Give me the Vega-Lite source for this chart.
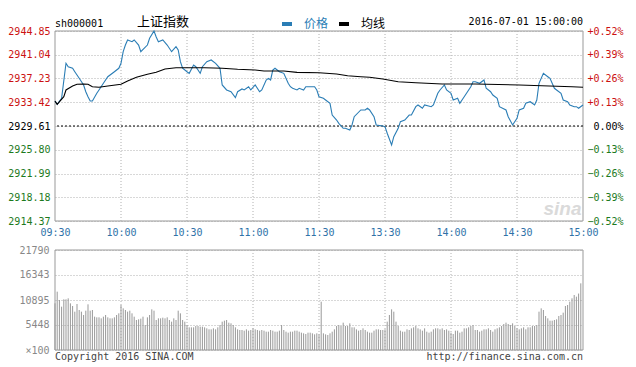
{
"$schema": "https://vega.github.io/schema/vega-lite/v6.json",
"width": 528, "height": 319,
"autosize": {"type": "none"},
"padding": {"left": 55, "top": 31, "right": 53, "bottom": 17},
"background": "white",
"config": {
 "font": "DejaVu Sans Mono",
 "view": {"stroke": null},
 "axis": {"labelFont": "DejaVu Sans Mono", "labelFontSize": 10, "ticks": false, "domain": false, "gridColor": "#b0b0b0", "gridDash": [1, 2], "gridWidth": 1, "title": null, "labelFlush": false, "labelOverlap": false}
},
"datasets": {
 "one": [{"k": 1}],
 "grid": [{"g": 30}, {"g": 60}, {"g": 90}, {"g": 120}, {"g": 150}, {"g": 180}, {"g": 210}],
 "prev": [{"pct": 0}],
 "lines": [
{"m":0,"p":2933.60,"s":"价格"},{"m":1,"p":2933.09,"s":"价格"},{"m":3,"p":2934.05,"s":"价格"},{"m":5,"p":2939.67,"s":"价格"},{"m":6,"p":2939.12,"s":"价格"},{"m":8,"p":2938.87,"s":"价格"},{"m":9,"p":2938.32,"s":"价格"},{"m":11,"p":2937.26,"s":"价格"},{"m":13,"p":2936.19,"s":"价格"},{"m":14,"p":2935.11,"s":"价格"},{"m":15,"p":2934.31,"s":"价格"},{"m":16,"p":2933.62,"s":"价格"},{"m":17,"p":2933.62,"s":"价格"},{"m":19,"p":2934.86,"s":"价格"},{"m":20,"p":2935.39,"s":"价格"},{"m":22,"p":2936.46,"s":"价格"},{"m":24,"p":2937.52,"s":"价格"},{"m":27,"p":2938.32,"s":"价格"},{"m":29,"p":2938.87,"s":"价格"},{"m":30,"p":2939.67,"s":"价格"},{"m":31,"p":2941.53,"s":"价格"},{"m":32,"p":2942.60,"s":"价格"},{"m":33,"p":2943.41,"s":"价格"},{"m":35,"p":2943.13,"s":"价格"},{"m":36,"p":2943.41,"s":"价格"},{"m":38,"p":2942.60,"s":"价格"},{"m":39,"p":2941.53,"s":"价格"},{"m":42,"p":2942.60,"s":"价格"},{"m":43,"p":2943.68,"s":"价格"},{"m":45,"p":2944.85,"s":"价格"},{"m":46,"p":2943.90,"s":"价格"},{"m":47,"p":2943.13,"s":"价格"},{"m":49,"p":2943.41,"s":"价格"},{"m":51,"p":2942.60,"s":"价格"},{"m":53,"p":2941.53,"s":"价格"},{"m":55,"p":2942.33,"s":"价格"},{"m":56,"p":2941.80,"s":"价格"},{"m":57,"p":2939.93,"s":"价格"},{"m":58,"p":2938.87,"s":"价格"},{"m":60,"p":2938.32,"s":"价格"},{"m":61,"p":2938.06,"s":"价格"},{"m":63,"p":2939.40,"s":"价格"},{"m":64,"p":2939.12,"s":"价格"},{"m":66,"p":2938.06,"s":"价格"},{"m":67,"p":2939.12,"s":"价格"},{"m":69,"p":2939.93,"s":"价格"},{"m":71,"p":2940.20,"s":"价格"},{"m":73,"p":2939.67,"s":"价格"},{"m":75,"p":2938.87,"s":"价格"},{"m":76,"p":2936.19,"s":"价格"},{"m":78,"p":2935.39,"s":"价格"},{"m":80,"p":2935.11,"s":"价格"},{"m":82,"p":2934.15,"s":"价格"},{"m":83,"p":2935.11,"s":"价格"},{"m":85,"p":2935.55,"s":"价格"},{"m":86,"p":2935.39,"s":"价格"},{"m":88,"p":2935.91,"s":"价格"},{"m":89,"p":2935.39,"s":"价格"},{"m":91,"p":2936.19,"s":"价格"},{"m":93,"p":2935.11,"s":"价格"},{"m":94,"p":2935.39,"s":"价格"},{"m":96,"p":2936.99,"s":"价格"},{"m":97,"p":2937.26,"s":"价格"},{"m":98,"p":2937.00,"s":"价格"},{"m":99,"p":2938.59,"s":"价格"},{"m":100,"p":2938.87,"s":"价格"},{"m":102,"p":2938.32,"s":"价格"},{"m":104,"p":2938.06,"s":"价格"},{"m":106,"p":2936.46,"s":"价格"},{"m":107,"p":2935.91,"s":"价格"},{"m":108,"p":2935.66,"s":"价格"},{"m":110,"p":2935.39,"s":"价格"},{"m":111,"p":2935.66,"s":"价格"},{"m":113,"p":2935.39,"s":"价格"},{"m":114,"p":2935.91,"s":"价格"},{"m":116,"p":2935.91,"s":"价格"},{"m":118,"p":2935.91,"s":"价格"},{"m":119,"p":2935.39,"s":"价格"},{"m":120,"p":2934.31,"s":"价格"},{"m":122,"p":2934.05,"s":"价格"},{"m":123,"p":2933.78,"s":"价格"},{"m":125,"p":2933.25,"s":"价格"},{"m":126,"p":2931.37,"s":"价格"},{"m":128,"p":2930.57,"s":"价格"},{"m":129,"p":2930.04,"s":"价格"},{"m":131,"p":2929.24,"s":"价格"},{"m":132,"p":2929.24,"s":"价格"},{"m":134,"p":2928.97,"s":"价格"},{"m":135,"p":2929.77,"s":"价格"},{"m":136,"p":2931.10,"s":"价格"},{"m":139,"p":2932.18,"s":"价格"},{"m":141,"p":2932.18,"s":"价格"},{"m":142,"p":2932.45,"s":"价格"},{"m":143,"p":2932.18,"s":"价格"},{"m":145,"p":2931.10,"s":"价格"},{"m":146,"p":2929.77,"s":"价格"},{"m":149,"p":2929.61,"s":"价格"},{"m":150,"p":2929.50,"s":"价格"},{"m":151,"p":2928.44,"s":"价格"},{"m":153,"p":2926.56,"s":"价格"},{"m":154,"p":2927.89,"s":"价格"},{"m":156,"p":2929.24,"s":"价格"},{"m":157,"p":2930.30,"s":"价格"},{"m":159,"p":2930.57,"s":"价格"},{"m":161,"p":2931.37,"s":"价格"},{"m":162,"p":2931.37,"s":"价格"},{"m":164,"p":2932.71,"s":"价格"},{"m":165,"p":2932.98,"s":"价格"},{"m":167,"p":2932.45,"s":"价格"},{"m":168,"p":2932.98,"s":"价格"},{"m":171,"p":2932.71,"s":"价格"},{"m":172,"p":2932.98,"s":"价格"},{"m":174,"p":2934.86,"s":"价格"},{"m":175,"p":2935.39,"s":"价格"},{"m":177,"p":2936.19,"s":"价格"},{"m":178,"p":2935.39,"s":"价格"},{"m":180,"p":2934.86,"s":"价格"},{"m":181,"p":2933.78,"s":"价格"},{"m":183,"p":2934.05,"s":"价格"},{"m":184,"p":2933.25,"s":"价格"},{"m":186,"p":2934.31,"s":"价格"},{"m":189,"p":2935.91,"s":"价格"},{"m":190,"p":2936.72,"s":"价格"},{"m":191,"p":2936.72,"s":"价格"},{"m":193,"p":2936.46,"s":"价格"},{"m":195,"p":2936.99,"s":"价格"},{"m":196,"p":2935.66,"s":"价格"},{"m":198,"p":2935.11,"s":"价格"},{"m":199,"p":2934.58,"s":"价格"},{"m":201,"p":2934.05,"s":"价格"},{"m":202,"p":2932.71,"s":"价格"},{"m":205,"p":2932.18,"s":"价格"},{"m":206,"p":2931.10,"s":"价格"},{"m":208,"p":2929.77,"s":"价格"},{"m":210,"p":2930.85,"s":"价格"},{"m":211,"p":2932.18,"s":"价格"},{"m":213,"p":2932.45,"s":"价格"},{"m":214,"p":2933.25,"s":"价格"},{"m":216,"p":2933.51,"s":"价格"},{"m":218,"p":2932.98,"s":"价格"},{"m":219,"p":2933.78,"s":"价格"},{"m":220,"p":2936.46,"s":"价格"},{"m":222,"p":2938.06,"s":"价格"},{"m":224,"p":2937.52,"s":"价格"},{"m":225,"p":2937.26,"s":"价格"},{"m":227,"p":2935.66,"s":"价格"},{"m":228,"p":2935.39,"s":"价格"},{"m":230,"p":2934.86,"s":"价格"},{"m":231,"p":2933.78,"s":"价格"},{"m":233,"p":2933.51,"s":"价格"},{"m":234,"p":2932.98,"s":"价格"},{"m":236,"p":2932.71,"s":"价格"},{"m":237,"p":2932.71,"s":"价格"},{"m":238,"p":2932.45,"s":"价格"},{"m":240,"p":2932.98,"s":"价格"},
{"m":0,"p":2933.60,"s":"均线"},{"m":1,"p":2933.09,"s":"均线"},{"m":4,"p":2934.31,"s":"均线"},{"m":5,"p":2935.39,"s":"均线"},{"m":8,"p":2936.03,"s":"均线"},{"m":10,"p":2936.30,"s":"均线"},{"m":13,"p":2936.35,"s":"均线"},{"m":15,"p":2936.30,"s":"均线"},{"m":17,"p":2935.91,"s":"均线"},{"m":20,"p":2935.82,"s":"均线"},{"m":24,"p":2936.03,"s":"均线"},{"m":30,"p":2936.30,"s":"均线"},{"m":33,"p":2936.83,"s":"均线"},{"m":37,"p":2937.42,"s":"均线"},{"m":42,"p":2937.90,"s":"均线"},{"m":46,"p":2938.22,"s":"均线"},{"m":50,"p":2938.75,"s":"均线"},{"m":55,"p":2938.96,"s":"均线"},{"m":60,"p":2938.96,"s":"均线"},{"m":68,"p":2938.96,"s":"均线"},{"m":76,"p":2938.87,"s":"均线"},{"m":83,"p":2938.71,"s":"均线"},{"m":91,"p":2938.59,"s":"均线"},{"m":95,"p":2938.43,"s":"均线"},{"m":104,"p":2938.43,"s":"均线"},{"m":110,"p":2938.22,"s":"均线"},{"m":120,"p":2938.16,"s":"均线"},{"m":128,"p":2937.95,"s":"均线"},{"m":133,"p":2937.68,"s":"均线"},{"m":139,"p":2937.52,"s":"均线"},{"m":143,"p":2937.42,"s":"均线"},{"m":149,"p":2937.15,"s":"均线"},{"m":156,"p":2936.72,"s":"均线"},{"m":164,"p":2936.56,"s":"均线"},{"m":176,"p":2936.35,"s":"均线"},{"m":191,"p":2936.35,"s":"均线"},{"m":211,"p":2936.19,"s":"均线"},{"m":235,"p":2935.91,"s":"均线"},{"m":240,"p":2935.82,"s":"均线"}
 ],
 "vol": [
{"m":0,"v":10168},{"m":1,"v":12710},{"m":2,"v":10895},{"m":3,"v":9442},{"m":4,"v":11040},{"m":5,"v":11040},{"m":6,"v":11258},{"m":7,"v":10168},{"m":8,"v":9587},{"m":9,"v":8352},
{"m":10,"v":10023},{"m":11,"v":8716},{"m":12,"v":8352},{"m":13,"v":7626},{"m":14,"v":8570},{"m":15,"v":9950},{"m":16,"v":8570},{"m":17,"v":8716},{"m":18,"v":7263},{"m":19,"v":7118},
{"m":20,"v":7118},{"m":21,"v":6900},{"m":22,"v":7263},{"m":23,"v":7626},{"m":24,"v":7118},{"m":25,"v":6900},{"m":26,"v":6900},{"m":27,"v":7118},{"m":28,"v":7626},{"m":29,"v":7989},
{"m":30,"v":9805},{"m":31,"v":9079},{"m":32,"v":8716},{"m":33,"v":8352},{"m":34,"v":8570},{"m":35,"v":7989},{"m":36,"v":7263},{"m":37,"v":6537},{"m":38,"v":6682},{"m":39,"v":6827},
{"m":40,"v":7263},{"m":41,"v":5447},{"m":42,"v":7118},{"m":43,"v":7626},{"m":44,"v":8861},{"m":45,"v":8570},{"m":46,"v":6537},{"m":47,"v":6900},{"m":48,"v":6900},{"m":49,"v":7045},
{"m":50,"v":6900},{"m":51,"v":7118},{"m":52,"v":6537},{"m":53,"v":6174},{"m":54,"v":6900},{"m":55,"v":6537},{"m":56,"v":8570},{"m":57,"v":7989},{"m":58,"v":6537},{"m":59,"v":6174},
{"m":60,"v":5447},{"m":61,"v":4939},{"m":62,"v":4939},{"m":63,"v":4939},{"m":64,"v":5229},{"m":65,"v":5229},{"m":66,"v":5084},{"m":67,"v":5084},{"m":68,"v":4939},{"m":69,"v":4721},
{"m":70,"v":4503},{"m":71,"v":4503},{"m":72,"v":4721},{"m":73,"v":4503},{"m":74,"v":4939},{"m":75,"v":5447},{"m":76,"v":6174},{"m":77,"v":6391},{"m":78,"v":6537},{"m":79,"v":5956},
{"m":80,"v":5810},{"m":81,"v":5447},{"m":82,"v":4939},{"m":83,"v":4503},{"m":84,"v":4358},{"m":85,"v":4358},{"m":86,"v":4213},{"m":87,"v":4503},{"m":88,"v":4213},{"m":89,"v":4358},
{"m":90,"v":4721},{"m":91,"v":4503},{"m":92,"v":4358},{"m":93,"v":4213},{"m":94,"v":4358},{"m":95,"v":4213},{"m":96,"v":3995},{"m":97,"v":3995},{"m":98,"v":4358},{"m":99,"v":4213},
{"m":100,"v":3995},{"m":101,"v":3995},{"m":102,"v":4213},{"m":103,"v":5447},{"m":104,"v":4358},{"m":105,"v":3995},{"m":106,"v":3777},{"m":107,"v":3995},{"m":108,"v":3995},{"m":109,"v":4213},
{"m":110,"v":4213},{"m":111,"v":3995},{"m":112,"v":3777},{"m":113,"v":3632},{"m":114,"v":3486},{"m":115,"v":3777},{"m":116,"v":3777},{"m":117,"v":3632},{"m":118,"v":3414},{"m":119,"v":3632},
{"m":120,"v":3414},
{"m":121,"v":10531},{"m":122,"v":3632},{"m":123,"v":3414},{"m":124,"v":3268},{"m":125,"v":3632},{"m":126,"v":3995},{"m":127,"v":4503},{"m":128,"v":5229},{"m":129,"v":5447},{"m":130,"v":5229},
{"m":131,"v":5956},{"m":132,"v":5229},{"m":133,"v":5229},{"m":134,"v":5810},{"m":135,"v":4939},{"m":136,"v":4939},{"m":137,"v":4503},{"m":138,"v":4213},{"m":139,"v":4358},{"m":140,"v":4721},
{"m":141,"v":4358},{"m":142,"v":3995},{"m":143,"v":3777},{"m":144,"v":3777},{"m":145,"v":4213},{"m":146,"v":4503},{"m":147,"v":4503},{"m":148,"v":4358},{"m":149,"v":4358},{"m":150,"v":4503},
{"m":151,"v":6174},{"m":152,"v":7626},{"m":153,"v":8861},{"m":154,"v":8352},{"m":155,"v":6174},{"m":156,"v":5229},{"m":157,"v":4213},{"m":158,"v":3995},{"m":159,"v":3995},{"m":160,"v":4503},
{"m":161,"v":4358},{"m":162,"v":4721},{"m":163,"v":4939},{"m":164,"v":5229},{"m":165,"v":4721},{"m":166,"v":4503},{"m":167,"v":4213},{"m":168,"v":4721},{"m":169,"v":3995},{"m":170,"v":3777},
{"m":171,"v":3995},{"m":172,"v":4503},{"m":173,"v":4721},{"m":174,"v":4721},{"m":175,"v":4503},{"m":176,"v":4721},{"m":177,"v":4358},{"m":178,"v":4503},{"m":179,"v":4213},{"m":180,"v":3777},
{"m":181,"v":3486},{"m":182,"v":4213},{"m":183,"v":4213},{"m":184,"v":3777},{"m":185,"v":3995},{"m":186,"v":4721},{"m":187,"v":4721},{"m":188,"v":4939},{"m":189,"v":5229},{"m":190,"v":5447},
{"m":191,"v":4358},{"m":192,"v":4358},{"m":193,"v":3995},{"m":194,"v":4213},{"m":195,"v":4503},{"m":196,"v":4503},{"m":197,"v":4721},{"m":198,"v":4358},{"m":199,"v":3995},{"m":200,"v":4503},
{"m":201,"v":4721},{"m":202,"v":4939},{"m":203,"v":5229},{"m":204,"v":5665},{"m":205,"v":5956},{"m":206,"v":5665},{"m":207,"v":5447},{"m":208,"v":5810},{"m":209,"v":5229},{"m":210,"v":4721},
{"m":211,"v":4503},{"m":212,"v":4721},{"m":213,"v":4939},{"m":214,"v":4503},{"m":215,"v":4939},{"m":216,"v":4939},{"m":217,"v":5229},{"m":218,"v":5229},{"m":219,"v":5447},{"m":220,"v":8352},
{"m":221,"v":9079},{"m":222,"v":8716},{"m":223,"v":7408},{"m":224,"v":6900},{"m":225,"v":6391},{"m":226,"v":6391},{"m":227,"v":6537},{"m":228,"v":6682},{"m":229,"v":7408},{"m":230,"v":7626},
{"m":231,"v":8135},{"m":232,"v":9587},{"m":233,"v":9805},{"m":234,"v":10531},{"m":235,"v":11258},{"m":236,"v":11984},{"m":237,"v":11621},{"m":238,"v":12300},{"m":239,"v":14526}
 ]
},
"layer": [
  {"data": {"name": "one"},
   "mark": {"type": "rect", "fillOpacity": 0, "stroke": "#999999", "strokeWidth": 1},
   "encoding": {
    "x": {"datum": 0, "type": "quantitative", "scale": {"domain": [0, 240], "nice": false, "zero": false},
     "axis": {"orient": "bottom", "offset": -129, "values": [0, 30, 60, 90, 120, 150, 180, 210, 240], "labelExpr": "['09:30','10:00','10:30','11:00','11:30','13:30','14:00','14:30','15:00'][round(datum.value/30)]", "labelColor": "#2f72a8", "labelPadding": 6, "grid": false}},
    "x2": {"datum": 240},
    "y": {"datum": 2914.37, "type": "quantitative", "scale": {"domain": [2914.37, 2944.85], "range": [190, 0], "nice": false, "zero": false}, "axis": null},
    "y2": {"datum": 2944.85}}},
  {"data": {"name": "grid"},
   "mark": {"type": "rule", "color": "#b0b0b0", "strokeDash": [1, 2], "strokeWidth": 1},
   "encoding": {
    "x": {"field": "g", "type": "quantitative",
     "axis": {"orient": "bottom", "offset": -129, "values": [0, 30, 60, 90, 120, 150, 180, 210, 240], "labelExpr": "['09:30','10:00','10:30','11:00','11:30','13:30','14:00','14:30','15:00'][round(datum.value/30)]", "labelColor": "#2f72a8", "labelPadding": 6, "grid": false}},
    "y": {"datum": 2914.37, "type": "quantitative", "scale": {"domain": [2914.37, 2944.85], "range": [190, 0], "nice": false, "zero": false}, "axis": null},
    "y2": {"datum": 2944.85}}},
  {"data": {"name": "one"},
   "mark": {"type": "text", "text": "sina", "align": "right", "baseline": "middle", "font": "Liberation Sans", "fontSize": 19, "fontStyle": "italic", "fontWeight": "bold", "color": "#dadada"},
   "encoding": {
    "x": {"datum": 239.3, "type": "quantitative",
     "axis": {"orient": "bottom", "offset": -129, "values": [0, 30, 60, 90, 120, 150, 180, 210, 240], "labelExpr": "['09:30','10:00','10:30','11:00','11:30','13:30','14:00','14:30','15:00'][round(datum.value/30)]", "labelColor": "#2f72a8", "labelPadding": 6, "grid": false}},
    "y": {"datum": 2916.3, "type": "quantitative", "scale": {"domain": [2914.37, 2944.85], "range": [190, 0], "nice": false, "zero": false}, "axis": null}}},
  {"data": {"name": "one"},
   "mark": {"type": "text", "text": "sh000001", "align": "left", "baseline": "middle", "dy": -7, "font": "DejaVu Sans Mono", "fontSize": 10, "color": "#000000"},
   "encoding": {
    "x": {"datum": 0, "type": "quantitative",
     "axis": {"orient": "bottom", "offset": -129, "values": [0, 30, 60, 90, 120, 150, 180, 210, 240], "labelExpr": "['09:30','10:00','10:30','11:00','11:30','13:30','14:00','14:30','15:00'][round(datum.value/30)]", "labelColor": "#2f72a8", "labelPadding": 6, "grid": false}},
    "y": {"datum": 2944.85, "type": "quantitative", "scale": {"domain": [2914.37, 2944.85], "range": [190, 0], "nice": false, "zero": false}, "axis": null}}},
  {"data": {"name": "one"},
   "mark": {"type": "text", "text": "上证指数", "align": "left", "baseline": "middle", "dy": -9, "font": "Noto Sans CJK SC", "fontSize": 13, "color": "#000000"},
   "encoding": {
    "x": {"datum": 37.3, "type": "quantitative",
     "axis": {"orient": "bottom", "offset": -129, "values": [0, 30, 60, 90, 120, 150, 180, 210, 240], "labelExpr": "['09:30','10:00','10:30','11:00','11:30','13:30','14:00','14:30','15:00'][round(datum.value/30)]", "labelColor": "#2f72a8", "labelPadding": 6, "grid": false}},
    "y": {"datum": 2944.85, "type": "quantitative", "scale": {"domain": [2914.37, 2944.85], "range": [190, 0], "nice": false, "zero": false}, "axis": null}}},
  {"data": {"name": "one"},
   "mark": {"type": "text", "text": "2016-07-01 15:00:00", "align": "right", "baseline": "middle", "dy": -9, "font": "DejaVu Sans Mono", "fontSize": 10, "color": "#000000"},
   "encoding": {
    "x": {"datum": 240, "type": "quantitative",
     "axis": {"orient": "bottom", "offset": -129, "values": [0, 30, 60, 90, 120, 150, 180, 210, 240], "labelExpr": "['09:30','10:00','10:30','11:00','11:30','13:30','14:00','14:30','15:00'][round(datum.value/30)]", "labelColor": "#2f72a8", "labelPadding": 6, "grid": false}},
    "y": {"datum": 2944.85, "type": "quantitative", "scale": {"domain": [2914.37, 2944.85], "range": [190, 0], "nice": false, "zero": false}, "axis": null}}},
  {"data": {"name": "one"},
   "mark": {"type": "rect", "fillOpacity": 0, "stroke": "#999999", "strokeWidth": 1},
   "encoding": {
    "x": {"datum": 0, "type": "quantitative",
     "axis": {"orient": "bottom", "offset": -129, "values": [0, 30, 60, 90, 120, 150, 180, 210, 240], "labelExpr": "['09:30','10:00','10:30','11:00','11:30','13:30','14:00','14:30','15:00'][round(datum.value/30)]", "labelColor": "#2f72a8", "labelPadding": 6, "grid": false}},
    "x2": {"datum": 240},
    "y": {"datum": 0, "type": "quantitative", "scale": {"domain": [0, 21790], "range": [319, 219], "nice": false, "zero": false}, "axis": null},
    "y2": {"datum": 21790}}},
  {"data": {"name": "grid"},
   "mark": {"type": "rule", "color": "#b0b0b0", "strokeDash": [1, 2], "strokeWidth": 1},
   "encoding": {
    "x": {"field": "g", "type": "quantitative",
     "axis": {"orient": "bottom", "offset": -129, "values": [0, 30, 60, 90, 120, 150, 180, 210, 240], "labelExpr": "['09:30','10:00','10:30','11:00','11:30','13:30','14:00','14:30','15:00'][round(datum.value/30)]", "labelColor": "#2f72a8", "labelPadding": 6, "grid": false}},
    "y": {"datum": 0, "type": "quantitative", "scale": {"domain": [0, 21790], "range": [319, 219], "nice": false, "zero": false}, "axis": null},
    "y2": {"datum": 21790}}},
  {"data": {"name": "one"},
   "mark": {"type": "text", "text": "Copyright 2016 SINA.COM", "align": "left", "baseline": "middle", "dy": 7, "font": "DejaVu Sans Mono", "fontSize": 10, "color": "#444444"},
   "encoding": {
    "x": {"datum": 0, "type": "quantitative",
     "axis": {"orient": "bottom", "offset": -129, "values": [0, 30, 60, 90, 120, 150, 180, 210, 240], "labelExpr": "['09:30','10:00','10:30','11:00','11:30','13:30','14:00','14:30','15:00'][round(datum.value/30)]", "labelColor": "#2f72a8", "labelPadding": 6, "grid": false}},
    "y": {"datum": 0, "type": "quantitative", "scale": {"domain": [0, 21790], "range": [319, 219], "nice": false, "zero": false}, "axis": null}}},
  {"data": {"name": "one"},
   "mark": {"type": "text", "text": "http://finance.sina.com.cn", "align": "right", "baseline": "middle", "dy": 7, "font": "DejaVu Sans Mono", "fontSize": 10, "color": "#444444"},
   "encoding": {
    "x": {"datum": 240, "type": "quantitative",
     "axis": {"orient": "bottom", "offset": -129, "values": [0, 30, 60, 90, 120, 150, 180, 210, 240], "labelExpr": "['09:30','10:00','10:30','11:00','11:30','13:30','14:00','14:30','15:00'][round(datum.value/30)]", "labelColor": "#2f72a8", "labelPadding": 6, "grid": false}},
    "y": {"datum": 0, "type": "quantitative", "scale": {"domain": [0, 21790], "range": [319, 219], "nice": false, "zero": false}, "axis": null}}},
  {"data": {"name": "vol"},
   "mark": {"type": "rule", "color": "#999999", "strokeWidth": 1},
   "encoding": {
    "x": {"field": "m", "type": "quantitative",
     "axis": {"orient": "bottom", "offset": -129, "values": [0, 30, 60, 90, 120, 150, 180, 210, 240], "labelExpr": "['09:30','10:00','10:30','11:00','11:30','13:30','14:00','14:30','15:00'][round(datum.value/30)]", "labelColor": "#2f72a8", "labelPadding": 6, "grid": false}},
    "y": {"field": "v", "type": "quantitative", "scale": {"domain": [0, 21790], "range": [319, 219], "nice": false, "zero": false},
     "axis": {"orient": "left", "values": [0, 5448, 10895, 16343, 21790], "labelExpr": "datum.value == 0 ? '×100' : format(datum.value, 'd')", "labelColor": "#888888", "labelPadding": 6, "grid": true}},
    "y2": {"datum": 0}}},
  {"data": {"name": "prev"},
   "mark": {"type": "rule", "color": "#000000", "strokeDash": [2, 2], "strokeWidth": 1},
   "encoding": {
    "y": {"field": "pct", "type": "quantitative",
     "scale": {"domain": [-0.52, 0.52], "range": [190, 0], "nice": false, "zero": false},
     "axis": {"orient": "right", "values": [-0.52, -0.39, -0.26, -0.13, 0, 0.13, 0.26, 0.39, 0.52], "labelExpr": "(datum.value > 0.001 ? '+' : '') + format(datum.value, '.2f') + '%'", "labelAlign": "right", "labelPadding": 40, "grid": false,
      "labelColor": {"condition": [{"test": "datum.value > 0.001", "value": "#cc1111"}, {"test": "datum.value < -0.001", "value": "#1d7a1d"}], "value": "#000000"}}}}},
  {"data": {"name": "lines"},
   "mark": {"type": "line", "strokeWidth": 1.1, "interpolate": "linear"},
   "encoding": {
    "x": {"field": "m", "type": "quantitative",
     "axis": {"orient": "bottom", "offset": -129, "values": [0, 30, 60, 90, 120, 150, 180, 210, 240], "labelExpr": "['09:30','10:00','10:30','11:00','11:30','13:30','14:00','14:30','15:00'][round(datum.value/30)]", "labelColor": "#2f72a8", "labelPadding": 6, "grid": false}},
    "y": {"field": "p", "type": "quantitative", "scale": {"domain": [2914.37, 2944.85], "range": [190, 0], "nice": false, "zero": false},
     "axis": {"orient": "left", "values": [2914.37, 2918.18, 2921.99, 2925.80, 2929.61, 2933.42, 2937.23, 2941.04, 2944.85], "format": ".2f", "labelPadding": 5, "grid": true,
      "labelColor": {"condition": [{"test": "datum.value > 2929.62", "value": "#cc1111"}, {"test": "datum.value < 2929.60", "value": "#1d7a1d"}], "value": "#000000"}}},
    "color": {"field": "s", "type": "nominal",
     "scale": {"domain": ["价格", "均线"], "range": ["#2a7db5", "#000000"]},
     "legend": {"orient": "none", "legendX": 225, "legendY": -14, "direction": "horizontal", "title": null, "symbolType": "stroke", "symbolStrokeWidth": 4, "symbolSize": 100, "labelFont": "Noto Sans CJK SC", "labelFontSize": 12, "labelOffset": 10, "columnPadding": 2, "padding": 0,
      "labelColor": {"expr": "datum.label === '价格' ? '#2a7db5' : '#000000'"}}}}}
],
"resolve": {"scale": {"y": "independent"}}
}
